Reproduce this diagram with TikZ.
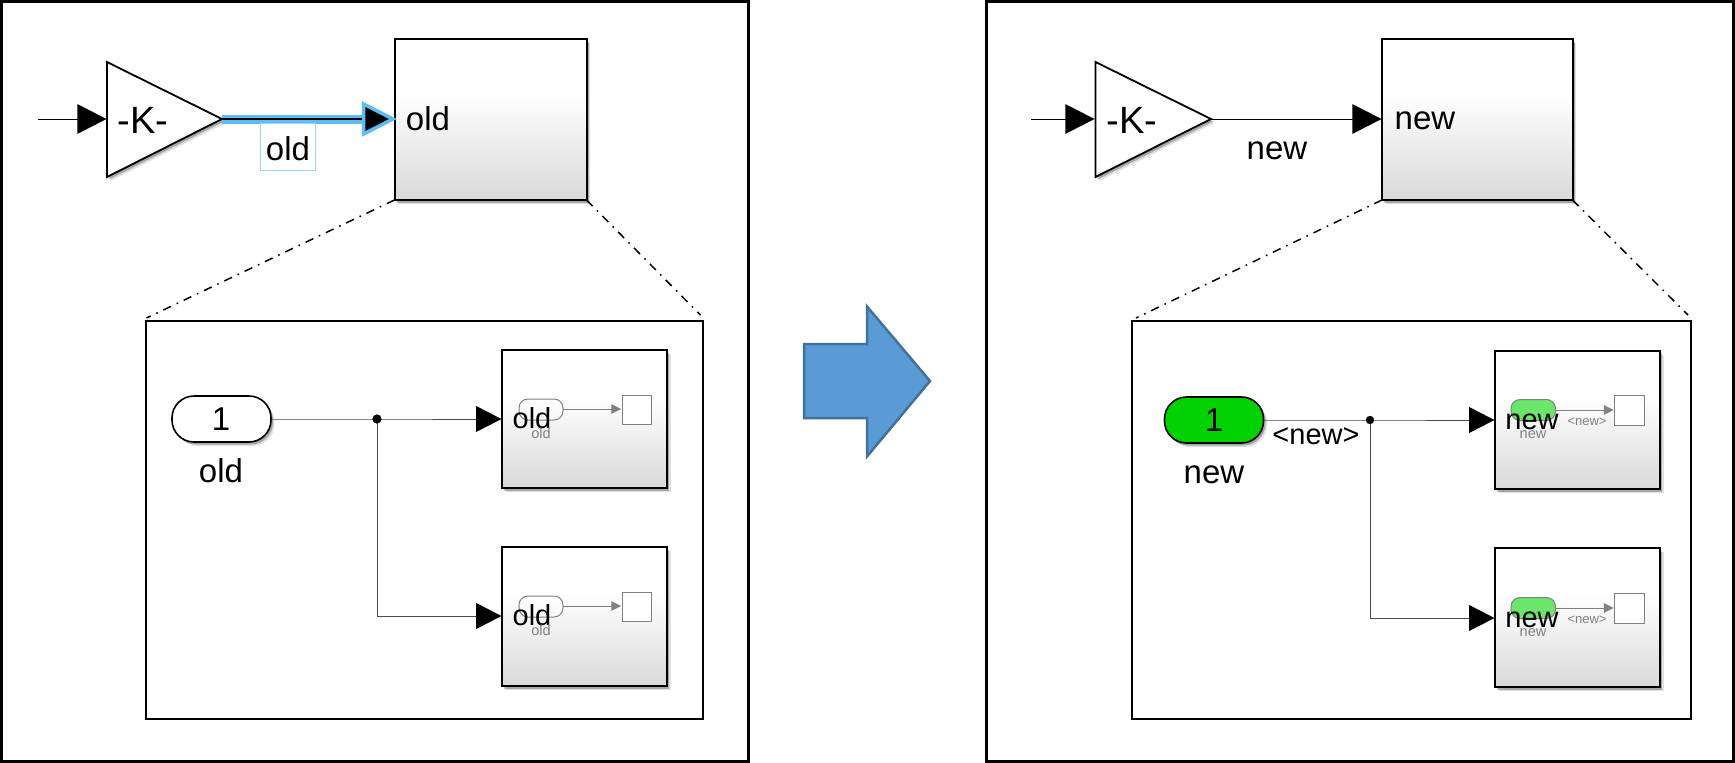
\documentclass[tikz,border=0pt]{standalone}
\usepackage{fontspec}
\setmainfont{Liberation Sans}
\usetikzlibrary{shapes.geometric,shadows}
\definecolor{selblue}{HTML}{5FBDF5}
\definecolor{selbox}{HTML}{9AD6FA}
\definecolor{arrowfill}{HTML}{5B9BD5}
\definecolor{arrowline}{HTML}{41719C}
\definecolor{pillgreen}{HTML}{00D200}
\definecolor{palegreen}{HTML}{6BE56B}
\definecolor{faint}{HTML}{808080}
\definecolor{wiregray}{HTML}{4A4A4A}
\pgfdeclareverticalshading{blockgrad}{100bp}{color(0bp)=(black!15); color(25bp)=(black!15); color(58bp)=(white); color(100bp)=(white)}
\tikzset{
  frame/.style={draw=black,line width=3pt,fill=white},
  subframe/.style={draw=black,line width=2pt,fill=white},
  softshadow/.style={drop shadow={shadow xshift=3.5pt,shadow yshift=-4pt,fill=black,opacity=.12},drop shadow={shadow xshift=2pt,shadow yshift=-2.5pt,fill=black,opacity=.25}},
  blockbox/.style={draw=black,line width=2pt,shading=blockgrad,outer sep=0pt,inner sep=0pt,anchor=north west,softshadow},
  pillbox/.style={draw=black,line width=1.6pt,rounded corners=22pt,minimum width=99pt,minimum height=46pt,inner sep=0pt,outer sep=0pt,softshadow},
  gainshape/.style={draw=black,line width=1.8pt,fill=white,softshadow},
  txt/.style={inner sep=0pt,text=black},
  wire/.style={draw=wiregray,line width=0.9pt},
  tip/.style={fill=black,draw=none},
  zoomline/.style={draw=black,line width=1.5pt,dash pattern=on 8.5pt off 6.2pt on 1.6pt off 6.2pt},
  softwire/.style={draw=faint,line width=1pt},
  softtip/.style={fill=faint,draw=none},
}
\newcommand{\fs}[1]{\fontsize{#1}{#1}\selectfont}
\newcommand{\tipat}[4]{\fill[#4] (#1-#3*1.95,#2-#3) -- (#1,#2) -- (#1-#3*1.95,#2+#3) -- cycle;}
\begin{document}
\begin{tikzpicture}[x=1pt,y=-1pt]
\useasboundingbox (0,0) rectangle (1735,763);
\fill[white] (0,0) rectangle (1735,763);
% ===== left panel
\draw[frame] (1.5,1.5) rectangle (748,761);
\coordinate (Lin) at (38,119);
\draw[black,line width=.9pt] (Lin) -- (80,119);
\tipat{106.5}{119}{15}{tip}
\draw[gainshape] (107,62) -- (222,119) coordinate (Lk2) -- (107,177) -- cycle;
\node[txt,font=\fs{38}] (Lk) at (143,120) {-K-};
\node[blockbox,minimum width=192pt,minimum height=161pt] (Lb) at (394.5,39) {};
\draw[selblue,line width=9pt] (Lk2) -- (365,119);
\draw[black,line width=1.4pt] (Lk2) -- (365,119);
\draw[selblue,line width=3.5pt,line join=miter,fill=black] (363.5,104) -- (393,119) -- (363.5,134) -- cycle;
\node[draw=selbox,line width=1.2pt,fill=white,minimum width=55pt,minimum height=47pt,inner sep=0pt] (Lbox) at (288,147) {};
\node[txt,font=\fs{33}] at (288,149) {old};
\node[txt,font=\fs{33}] (Lbt) at (428,119) {old};
\draw[zoomline] (Lb.south west) -- (146.5,318);
\draw[zoomline] (Lb.south east) -- (700.5,315);
% inner
\draw[subframe] (145.5,320.5) rectangle (703,719);
\node[pillbox,fill=white] (Lp) at (221.5,419) {};
\node[txt,font=\fs{33}] at (221,419.5) {1};
\node[txt,font=\fs{33}] at (221,471) {old};
\node[blockbox,minimum width=165pt,minimum height=138pt] (Lb1) at (502,350) {};
\node[blockbox,minimum width=165pt,minimum height=139pt] (Lb2) at (502,547) {};
\coordinate (Lj) at (377,419);
\coordinate (Lt1) at (490,419);
\coordinate (Lt2) at (490,616);
\draw[wire] (Lp.east) -- (Lj) -- (Lt1);
\draw[wire] (Lj) |- (Lt2);
\fill[black] (Lj) circle (4.6pt);
\tipat{501.5}{419}{13}{tip}
\tipat{501.5}{616}{13}{tip}
\foreach \dy in {0,197}{
  \draw[faint,line width=1pt,rounded corners=9pt] (519,399+\dy) rectangle (563,420+\dy);
  \draw[softwire] (563,409+\dy) -- (612,409+\dy);
  \tipat{621}{409+\dy}{5}{softtip}
  \draw[faint,line width=1pt,fill=white] (622,395+\dy) rectangle (651.5,424.5+\dy);
  \node[txt,font=\fs{29}] at (532,418.5+\dy) {old};
  \node[txt,font=\fs{14.5},text=faint] at (541,433+\dy) {old};
}
% ===== arrow
\draw[line width=2.5pt,draw=arrowline,fill=arrowfill,line join=miter] (804,344) -- (867,344) -- (867,306.5) -- (930,381) -- (867,456.5) -- (867,418) -- (804,418) -- cycle;
% ===== right panel
\draw[frame] (986,1.5) rectangle (1733.5,761);
\coordinate (Rin) at (1031,119);
\draw[black,line width=.9pt] (Rin) -- (1070,119);
\tipat{1094.5}{119}{15}{tip}
\draw[gainshape] (1095.5,62) -- (1211,119) coordinate (Rk2) -- (1095.5,177) -- cycle;
\node[txt,font=\fs{38}] (Rk) at (1132,120) {-K-};
\node[blockbox,minimum width=190.5pt,minimum height=161pt] (Rb) at (1382,39) {};
\draw[black,line width=.9pt] (Rk2) -- (1355,119);
\tipat{1381.5}{119}{15}{tip}
\node[txt,font=\fs{33}] at (1277,150.5) {new};
\node[txt,font=\fs{33}] at (1425,121) {new};
\draw[zoomline] (Rb.south west) -- (1136,318);
\draw[zoomline] (Rb.south east) -- (1688,315);
\draw[subframe] (1132,320.5) rectangle (1691,719);
\node[pillbox,fill=pillgreen] (Rp) at (1214,420) {};
\node[txt,font=\fs{33}] at (1214,420.5) {1};
\node[txt,font=\fs{33}] at (1214,475) {new};
\node[txt,font=\fs{29}] at (1316,436) {<new>};
\node[blockbox,minimum width=165pt,minimum height=138.5pt] (Rb1) at (1495,350.5) {};
\node[blockbox,minimum width=165pt,minimum height=139pt] (Rb2) at (1495,548) {};
\coordinate (Rj) at (1370,420);
\coordinate (Rt1) at (1483,420);
\coordinate (Rt2) at (1483,618);
\draw[wire] (Rp.east) -- (Rj) -- (Rt1);
\draw[wire] (Rj) |- (Rt2);
\fill[black] (Rj) circle (4.2pt);
\tipat{1494.5}{420}{13}{tip}
\tipat{1494.5}{618}{13}{tip}
\foreach \dy in {0,198}{
  \draw[faint,line width=1pt,fill=palegreen,rounded corners=9pt] (1511,399.5+\dy) rectangle (1555.5,420.5+\dy);
  \draw[softwire] (1555.5,410+\dy) -- (1605,410+\dy);
  \tipat{1613.5}{410+\dy}{5}{softtip}
  \draw[faint,line width=1pt,fill=white] (1614,395.5+\dy) rectangle (1644,425+\dy);
  \node[txt,font=\fs{29}] at (1532,422+\dy) {new};
  \node[txt,font=\fs{14.5},text=faint] at (1533,435+\dy) {new};
  \node[txt,font=\fs{13},text=faint] at (1587,422+\dy) {<new>};
}
\end{tikzpicture}
\end{document}
